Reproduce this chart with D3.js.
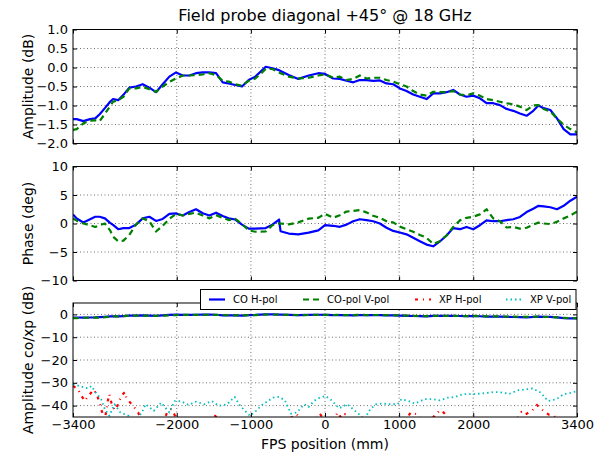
<!DOCTYPE html>
<html>
<head>
<meta charset="utf-8">
<script src="https://cdnjs.cloudflare.com/ajax/libs/d3/7.8.5/d3.min.js"></script>
<style>
body { margin: 0; background: #fff; }
svg { display: block; font-family: "DejaVu Sans", sans-serif; }
</style>
</head>
<body>
<svg id="chart" width="604" height="456"></svg>
<script>
var positions = [-3400,-3350,-3260,-3170,-3100,-3040,-2970,-2900,-2860,-2790,
  -2720,-2640,-2550,-2460,-2370,-2280,-2190,-2100,-2010,-1920,
  -1830,-1740,-1650,-1560,-1470,-1380,-1300,-1210,-1120,-1030,
  -940,-800,-710,-620,-600,-490,-360,-220,-90,0,
  110,200,290,380,470,560,650,740,830,920,
  1010,1100,1190,1280,1370,1460,1550,1640,1730,1820,
  1910,2000,2090,2180,2270,2360,2450,2540,2630,2720,
  2810,2880,2950,3040,3130,3220,3310,3400];

var ampCoH = [-1.36,-1.36,-1.41,-1.36,-1.34,-1.23,-1.07,-0.90,-0.83,-0.86,
  -0.72,-0.53,-0.50,-0.44,-0.53,-0.65,-0.44,-0.24,-0.13,-0.21,
  -0.21,-0.15,-0.13,-0.13,-0.15,-0.39,-0.42,-0.46,-0.50,-0.33,
  -0.24,0.02,-0.02,-0.07,-0.09,-0.20,-0.30,-0.21,-0.15,-0.17,
  -0.29,-0.30,-0.35,-0.39,-0.33,-0.33,-0.35,-0.34,-0.42,-0.44,
  -0.55,-0.62,-0.71,-0.77,-0.83,-0.68,-0.68,-0.65,-0.59,-0.71,
  -0.77,-0.74,-0.81,-0.94,-0.94,-0.99,-1.09,-1.14,-1.21,-1.27,
  -1.14,-1.00,-1.07,-1.12,-1.34,-1.62,-1.76,-1.76];

var ampCoV = [-1.64,-1.62,-1.47,-1.40,-1.39,-1.41,-1.22,-1.02,-0.90,-0.86,
  -0.77,-0.55,-0.55,-0.51,-0.57,-0.64,-0.50,-0.38,-0.29,-0.21,
  -0.21,-0.20,-0.18,-0.15,-0.20,-0.35,-0.37,-0.44,-0.48,-0.35,
  -0.29,-0.04,-0.04,-0.13,-0.15,-0.24,-0.29,-0.27,-0.21,-0.18,
  -0.27,-0.24,-0.33,-0.30,-0.21,-0.29,-0.27,-0.27,-0.33,-0.37,
  -0.44,-0.50,-0.62,-0.71,-0.74,-0.64,-0.65,-0.65,-0.62,-0.71,
  -0.73,-0.68,-0.74,-0.83,-0.86,-0.90,-0.94,-0.97,-1.03,-1.12,
  -1.00,-0.99,-1.09,-1.16,-1.34,-1.51,-1.62,-1.71];

var phaseCoH = [1.59,0.88,0.18,0.75,1.18,1.18,0.9,0.1,-0.25,-1.0,
  -0.8,-0.8,-0.2,0.9,1.18,0.45,0.8,1.7,1.76,1.4,
  2.0,2.5,1.8,1.4,1.9,1.3,0.9,0.7,-0.2,-0.9,
  -0.9,-0.8,-0.2,0.7,-1.35,-1.76,-1.9,-1.6,-1.2,-0.3,
  -0.4,-0.58,-0.2,0.4,0.75,0.6,0.4,0.0,-0.75,-1.3,
  -1.58,-1.9,-2.5,-3.1,-3.7,-4.0,-3.15,-2.1,-0.8,-1.0,
  -0.6,-1.0,-0.3,0.55,0.4,0.4,0.6,0.75,1.15,2.0,
  2.6,3.1,3.0,2.85,2.5,3.1,4.0,4.7];

var phaseCoV = [0.88,0.5,0.0,-0.3,-0.6,-0.3,0.0,-1.2,-2.3,-3.1,
  -3.0,-2.0,-0.2,0.9,0.4,-1.4,-0.4,0.8,1.7,1.4,
  1.7,1.9,1.4,0.9,1.45,1.0,0.6,0.8,-0.1,-1.2,
  -1.45,-1.4,-0.3,0.0,0.0,-0.15,0.2,0.85,1.0,1.7,
  1.0,1.45,2.1,2.2,2.35,1.95,1.35,1.0,0.4,0.2,
  -0.55,-1.0,-1.45,-2.0,-2.5,-3.6,-3.1,-2.1,-0.6,0.55,
  1.0,1.2,1.6,2.5,0.9,0.4,-0.7,-0.6,-0.9,-0.75,
  -0.2,0.15,0.0,-0.1,0.3,0.9,1.4,2.1];

var xpHPositions = [-3400,-3330,-3290,-3240,-3200,-3120,-3070,-3040,-3020,-3000,
  -2970,-2930,-2910,-2880,-2840,-2800,-2780,-2740,-2700,-2680,
  -2620,-2570,-2520,-2480,-2400,-2250,-2160,-2130,-2080,-2030,
  -1990,-1800,-1550,-1480,-1420,-1200,-900,-600,-380,-330,
  -200,-70,-20,120,170,220,270,320,500,800,
  1050,1100,1160,1240,1300,1450,1550,1600,1650,1700,
  1900,2200,2500,2600,2650,2700,2750,2800,2860,2900,
  2960,3020,3090,3150,3300,3400];
var xpH = [-31.4,-33.0,-35.5,-38.0,-36.0,-33.0,-36.0,-38.7,-41.6,-43.5,
  -46.0,-38.0,-35.0,-39.0,-42.0,-40.0,-38.0,-35.5,-34.0,-36.5,
  -39.0,-40.9,-43.0,-47.0,-50.0,-48.0,-45.5,-43.0,-41.6,-44.0,
  -48.0,-52.0,-47.0,-44.5,-47.0,-50.0,-52.0,-48.0,-43.8,-46.0,
  -49.0,-43.5,-46.0,-46.0,-43.0,-45.5,-43.8,-46.0,-50.0,-52.0,
  -47.0,-45.5,-43.0,-43.8,-46.0,-45.5,-42.0,-43.0,-45.0,-47.0,
  -52.0,-50.0,-47.0,-45.3,-42.8,-44.0,-43.0,-42.0,-39.7,-41.0,
  -42.6,-44.0,-44.5,-46.5,-50.0,-49.0];

var xpVPositions = [-3400,-3310,-3200,-3150,-3100,-3020,-2970,-2910,-2840,-2760,
  -2650,-2570,-2470,-2420,-2310,-2210,-2100,-2030,-1950,-1840,
  -1740,-1630,-1530,-1430,-1320,-1220,-1160,-1090,-1010,-930,
  -850,-770,-700,-620,-540,-460,-380,-280,-220,-150,
  -70,10,90,190,300,380,450,530,610,690,
  770,870,980,1030,1130,1210,1290,1340,1450,1550,
  1660,1760,1860,1970,2070,2180,2280,2390,2490,2600,
  2700,2800,2910,3010,3120,3220,3330,3400];
var xpV = [-30.7,-31.4,-32.5,-31.4,-34.0,-37.2,-41.6,-44.5,-39.4,-43.0,
  -44.5,-47.0,-43.0,-39.4,-42.3,-38.7,-43.0,-38.0,-38.0,-39.7,
  -38.3,-39.4,-38.0,-40.1,-39.4,-36.2,-39.4,-42.0,-44.5,-42.3,
  -39.7,-38.0,-36.5,-36.2,-37.7,-43.5,-43.0,-39.4,-40.6,-38.0,
  -36.5,-35.8,-37.7,-41.2,-39.4,-41.6,-43.5,-46.0,-41.6,-39.4,
  -39.1,-39.4,-39.4,-37.2,-38.0,-39.1,-38.0,-37.2,-37.2,-37.7,
  -36.5,-36.2,-35.0,-35.0,-34.8,-34.5,-34.0,-34.3,-34.8,-33.3,
  -32.9,-32.5,-34.3,-38.0,-37.2,-35.0,-34.3,-33.6];

var xTicks = [-3400, -2000, -1000, 0, 1000, 2000, 3400];
var ampTicks = [-2, -1.5, -1, -0.5, 0, 0.5, 1];
var phaseTicks = [-10, -5, 0, 5, 10];
var ratioTicks = [-40, -30, -20, -10, 0];
var legendNames = ['CO H-pol', 'CO-pol V-pol', 'XP H-pol', 'XP V-pol'];

var left = 73, right = 577;
var svg = d3.select('#chart');
var x = d3.scaleLinear().domain([-3400, 3400]).range([left, right]);

var styles = [
  {color: '#0000ff', width: 2.2, dash: null},
  {color: '#008000', width: 2.2, dash: '6,4'},
  {color: '#ff0000', width: 2.2, dash: '3,5,1,5'},
  {color: '#00bfbf', width: 1.8, dash: '1.5,3'}
];

function drawPanel(id, top, bottom, domain, ticks, fmt, label, lines, showX) {
  var y = d3.scaleLinear().domain(domain).range([bottom, top]);
  var g = svg.append('g');

  g.append('clipPath').attr('id', 'clip' + id)
    .append('rect').attr('x', left).attr('y', top)
    .attr('width', right - left).attr('height', bottom - top);

  var grid = g.append('g').attr('stroke', '#333').attr('stroke-width', 0.7)
    .attr('stroke-dasharray', '1,2.5');
  grid.selectAll('.gx').data(xTicks.slice(1, -1)).enter().append('line')
    .attr('x1', function(d) { return x(d); }).attr('x2', function(d) { return x(d); })
    .attr('y1', top).attr('y2', bottom);
  grid.selectAll('.gy').data(ticks.filter(function(d) { return y(d) > top + 1 && y(d) < bottom - 1; }))
    .enter().append('line')
    .attr('x1', left).attr('x2', right)
    .attr('y1', function(d) { return y(d); }).attr('y2', function(d) { return y(d); });

  var line = d3.line().x(function(d) { return x(d[0]); }).y(function(d) { return y(d[1]); });
  var plot = g.append('g').attr('clip-path', 'url(#clip' + id + ')');
  lines.forEach(function(l) {
    var s = styles[l.style];
    plot.append('path')
      .datum(d3.zip(l.xs, l.ys))
      .attr('d', line)
      .attr('fill', 'none')
      .attr('stroke', s.color)
      .attr('stroke-width', s.width)
      .attr('stroke-dasharray', s.dash)
      .attr('stroke-linejoin', 'round');
  });

  var yAxis = d3.axisLeft(y).tickValues(ticks).tickFormat(fmt)
    .tickSizeInner(-4).tickSizeOuter(0).tickPadding(5);
  g.append('g').attr('transform', 'translate(' + left + ',0)').call(yAxis);
  g.append('g').attr('transform', 'translate(' + right + ',0)')
    .call(d3.axisRight(y).tickValues(ticks).tickFormat('').tickSizeInner(-4).tickSizeOuter(0));
  g.append('g').attr('transform', 'translate(0,' + top + ')')
    .call(d3.axisTop(x).tickValues(xTicks).tickFormat('').tickSizeInner(-4).tickSizeOuter(0));
  g.append('g').attr('transform', 'translate(0,' + bottom + ')')
    .call(d3.axisBottom(x).tickValues(xTicks).tickFormat(showX ? d3.format('d') : '')
      .tickSizeInner(-4).tickSizeOuter(0).tickPadding(3));

  g.selectAll('.domain').remove();
  g.selectAll('.tick line').attr('stroke', '#000');
  g.selectAll('.tick text').attr('fill', '#000').attr('font-size', 13)
    .attr('font-family', '"DejaVu Sans", sans-serif');

  g.append('rect').attr('x', left).attr('y', top)
    .attr('width', right - left).attr('height', bottom - top)
    .attr('fill', 'none').attr('stroke', '#000').attr('stroke-width', 1);

  g.append('text')
    .attr('transform', 'translate(33,' + ((top + bottom) / 2) + ') rotate(-90)')
    .attr('text-anchor', 'middle').attr('font-size', 14)
    .text(label);
  return g;
}

svg.append('rect').attr('width', 604).attr('height', 456).attr('fill', '#fff');

svg.append('text').attr('x', 325).attr('y', 21)
  .attr('text-anchor', 'middle').attr('font-size', 16)
  .text('Field probe diagonal +45\u00b0 @ 18 GHz');

drawPanel(0, 29.5, 143.5, [-2, 1], ampTicks, d3.format('.1f'), 'Amplitude (dB)', [
  {xs: positions, ys: ampCoH, style: 0},
  {xs: positions, ys: ampCoV, style: 1}
], false);

drawPanel(1, 166.5, 280.5, [-10, 10], phaseTicks, d3.format('d'), 'Phase (deg)', [
  {xs: positions, ys: phaseCoH, style: 0},
  {xs: positions, ys: phaseCoV, style: 1}
], false);

drawPanel(2, 303, 417, [-45, 5], ratioTicks, d3.format('d'), 'Amplitude co/xp (dB)', [
  {xs: positions, ys: ampCoH, style: 0},
  {xs: positions, ys: ampCoV, style: 1},
  {xs: xpHPositions, ys: xpH, style: 2},
  {xs: xpVPositions, ys: xpV, style: 3}
], true);

svg.append('text').attr('x', 325).attr('y', 449)
  .attr('text-anchor', 'middle').attr('font-size', 14)
  .text('FPS position (mm)');

// legend over the top edge of the bottom panel
var legend = svg.append('g');
legend.append('rect').attr('x', 200.5).attr('y', 289.5).attr('width', 375.5).attr('height', 20)
  .attr('fill', '#fff').attr('stroke', '#000').attr('stroke-width', 1);
var textX = [233, 327, 439, 530];
legendNames.forEach(function(name, i) {
  var s = styles[i];
  legend.append('line')
    .attr('x1', textX[i] - 24).attr('x2', textX[i] - 8)
    .attr('y1', 299.5).attr('y2', 299.5)
    .attr('stroke', s.color).attr('stroke-width', s.width)
    .attr('stroke-dasharray', s.dash);
  legend.append('text').attr('x', textX[i]).attr('y', 303)
    .attr('font-size', 10).text(name);
});
</script>
</body>
</html>
